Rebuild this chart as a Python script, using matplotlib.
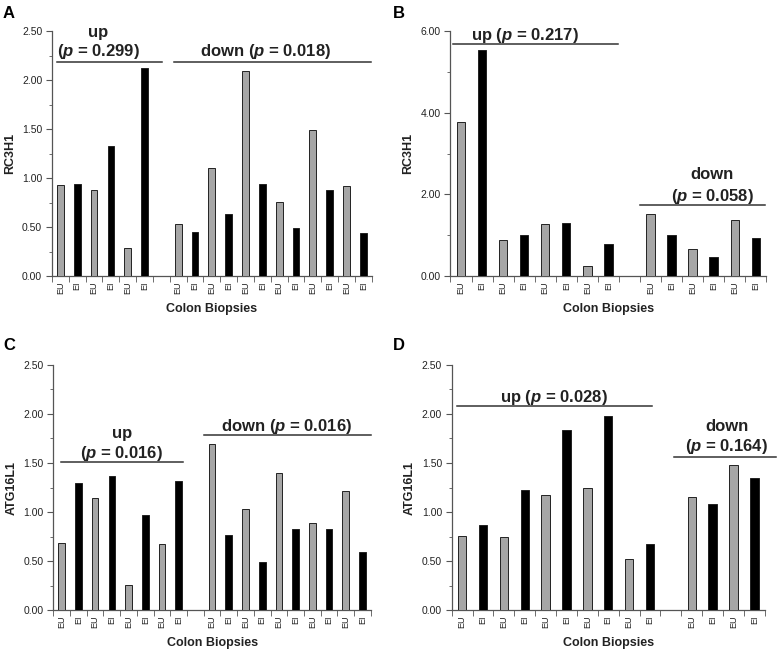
import matplotlib
matplotlib.use('Agg')
import matplotlib.pyplot as plt
from matplotlib.ticker import MultipleLocator, FormatStrFormatter

plt.rcParams['font.family'] = ['Liberation Sans', 'DejaVu Sans']
plt.rcParams['mathtext.fontset'] = 'custom'
plt.rcParams['mathtext.rm'] = 'Liberation Sans:bold'
plt.rcParams['mathtext.it'] = 'Liberation Sans:italic:bold'

# Data
# ==========================
A_UP = [0.93, 0.94, 0.88, 1.33, 0.29, 2.12]
A_DOWN = [0.53, 0.45, 1.10, 0.63, 2.09, 0.94, 0.76, 0.49, 1.49, 0.88, 0.92, 0.44]
B_UP = [3.77, 5.53, 0.88, 1.00, 1.27, 1.31, 0.25, 0.79]
B_DOWN = [1.52, 1.00, 0.66, 0.46, 1.38, 0.94]
C_UP = [0.69, 1.30, 1.14, 1.37, 0.26, 0.97, 0.675, 1.32]
C_DOWN = [1.69, 0.77, 1.03, 0.49, 1.40, 0.83, 0.89, 0.83, 1.21, 0.59]
D_UP = [0.76, 0.865, 0.75, 1.22, 1.17, 1.84, 1.25, 1.98, 0.52, 0.675]
D_DOWN = [1.15, 1.08, 1.48, 1.35]

GENES = ['RC3H1', 'RC3H1', 'ATG16L1', 'ATG16L1']
P_UP = ['0.299', '0.217', '0.016', '0.028']
P_DOWN = ['0.018', '0.058', '0.016', '0.164']
SAMPLE_LABELS = ['EU', 'EI']

GRAY = '#a6a6a6'
AXCOL = '#555555'
TXT = '#222222'


def bar_positions(n_up, n_down):
    up = list(range(n_up))
    down = list(range(n_up + 1, n_up + 1 + n_down))
    return up, down


def draw_panel(ax, up, down, gene, ymax, ymajor, yminor):
    up_x, down_x = bar_positions(len(up), len(down))
    xs = up_x + down_x
    vals = up + down
    colors = [GRAY if i % 2 == 0 else 'black' for i in range(len(up))] + \
             [GRAY if i % 2 == 0 else 'black' for i in range(len(down))]
    labels = [SAMPLE_LABELS[i % 2] for i in range(len(up))] + \
             [SAMPLE_LABELS[i % 2] for i in range(len(down))]
    ax.bar(xs, vals, width=0.4, color=colors, edgecolor='#222222', linewidth=0.7, zorder=3)

    n_slots = len(up) + len(down) + 1
    ax.set_xlim(-0.5, n_slots - 0.5)
    ax.set_ylim(0, ymax)

    ax.set_xticks(xs)
    ax.set_xticklabels(labels, rotation=90, fontsize=6.5, color=TXT)
    ax.set_xticks([i - 0.5 for i in range(n_slots + 1)], minor=True)
    ax.tick_params(axis='x', which='major', length=0, pad=4)
    ax.tick_params(axis='x', which='minor', length=4, color=AXCOL, direction='out')

    ax.yaxis.set_major_locator(MultipleLocator(ymajor))
    ax.yaxis.set_minor_locator(MultipleLocator(yminor))
    ax.yaxis.set_major_formatter(FormatStrFormatter('%.2f'))
    ax.tick_params(axis='y', which='major', length=4.5, color=AXCOL, labelsize=7.5,
                   labelcolor=TXT, pad=2.5)
    ax.tick_params(axis='y', which='minor', length=2.5, color=AXCOL)

    for s in ['top', 'right']:
        ax.spines[s].set_visible(False)
    for s in ['left', 'bottom']:
        ax.spines[s].set_color(AXCOL)
        ax.spines[s].set_linewidth(0.9)

    ax.set_ylabel(gene, fontsize=9, fontweight='bold', color=TXT)
    ax.set_xlabel('Colon Biopsies', fontsize=9, fontweight='bold', color=TXT)


def bracket(ax, x0, x1, y):
    ax.plot([x0, x1], [y, y], color='#333333', lw=1.1, clip_on=False, zorder=4)


def label(ax, x, y, s):
    ax.text(x, y, s, ha='center', va='center', fontsize=12, fontweight='bold',
            color=TXT, clip_on=False)


fig = plt.figure(figsize=(7.78, 6.51), dpi=100)

axA = fig.add_axes([0.0668, 0.576, 0.411, 0.376])
axB = fig.add_axes([0.579, 0.576, 0.406, 0.376])
axC = fig.add_axes([0.0686, 0.0625, 0.408, 0.3773])
axD = fig.add_axes([0.5806, 0.0625, 0.4024, 0.3773])

draw_panel(axA, A_UP, A_DOWN, GENES[0], 2.5, 0.5, 0.25)
draw_panel(axB, B_UP, B_DOWN, GENES[1], 6.0, 2.0, 1.0)
draw_panel(axC, C_UP, C_DOWN, GENES[2], 2.5, 0.5, 0.25)
draw_panel(axD, D_UP, D_DOWN, GENES[3], 2.5, 0.5, 0.25)

# Panel A
bracket(axA, -0.2, 6.03, 2.19)
label(axA, 2.27, 2.49, 'up')
label(axA, 2.27, 2.29, f'($p$ = {P_UP[0]})')
bracket(axA, 6.76, 18.44, 2.19)
label(axA, 12.17, 2.29, f'down ($p$ = {P_DOWN[0]})')

# Panel B
bracket(axB, -0.4, 7.46, 5.69)
label(axB, 3.06, 5.9, f'up ($p$ = {P_UP[1]})')
bracket(axB, 8.52, 14.42, 1.74)
label(axB, 11.94, 2.48, 'down')
label(axB, 11.94, 1.96, f'($p$ = {P_DOWN[1]})')

# Panel C
bracket(axC, -0.04, 7.28, 1.506)
label(axC, 3.59, 1.80, 'up')
label(axC, 3.59, 1.60, f'($p$ = {P_UP[2]})')
bracket(axC, 8.52, 18.5, 1.78)
label(axC, 13.47, 1.87, f'down ($p$ = {P_DOWN[2]})')

# Panel D
bracket(axD, -0.26, 9.12, 2.08)
label(axD, 4.42, 2.17, f'up ($p$ = {P_UP[3]})')
bracket(axD, 10.17, 15.04, 1.557)
label(axD, 12.68, 1.87, 'down')
label(axD, 12.68, 1.665, f'($p$ = {P_DOWN[3]})')

# label coordinates
for ax, wpx, hpx in [(axA, 320, 245), (axB, 316, 245), (axC, 317, 246), (axD, 313, 246)]:
    ax.yaxis.set_label_coords(-36 / wpx, 0.5)
    ax.xaxis.set_label_coords(0.5, -27 / hpx)

for letter, x, y in [('A', 3, 6), ('B', 393, 6), ('C', 3, 338), ('D', 393, 338)]:
    fig.text(x / 778, 1 - y / 651, letter, ha='left', va='top', fontsize=12,
             fontweight='bold', color='black')

fig.savefig('out.png', dpi=100)
